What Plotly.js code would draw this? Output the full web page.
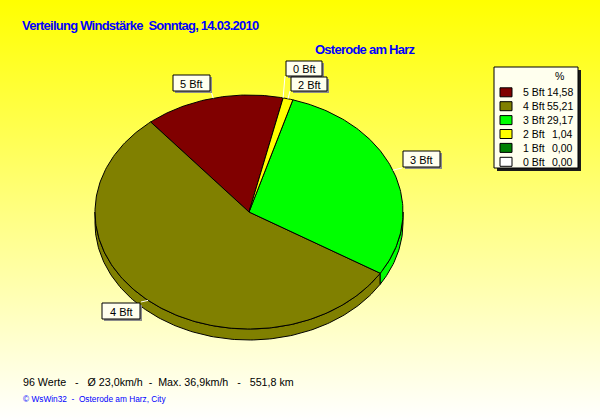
<!DOCTYPE html>
<html>
<head>
<meta charset="utf-8">
<script src="https://cdn.plot.ly/plotly-3.0.1.min.js"></script>
<style>
  html, body { margin: 0; padding: 0; }
  #chart {
    width: 600px; height: 420px;
    background: linear-gradient(to bottom, #ffff00 0%, #ffffff 100%);
  }
  /* heading lines use a tighter, condensed look */
  #chart .annotation[data-index="0"] text,
  #chart .annotation[data-index="1"] text { letter-spacing: -0.75px; }
</style>
</head>
<body>
<div id="chart"></div>
<script>
// Wind force distribution (Beaufort), share of readings in percent
const categories = ['5 Bft', '4 Bft', '3 Bft', '2 Bft', '1 Bft', '0 Bft'];
const percent = [14.58, 55.21, 29.17, 1.04, 0.00, 0.00];
const sliceColors = ['#800000', '#808000', '#00ff00', '#ffff00', '#008000', '#ffffff'];

const titleText = 'Verteilung Windstärke  Sonntag, 14.03.2010';
const stationText = 'Osterode am Harz';
const statsText = '96 Werte   -   Ø 23,0km/h  -  Max. 36,9km/h   -   551,8 km';
const creditText = '© WsWin32  -  Osterode am Harz, City';
const legendHeader = '%';

// Slices that carry a callout box
const calloutCategories = ['5 Bft', '0 Bft', '2 Bft', '3 Bft', '4 Bft'];

// ---- layout geometry (pixel space: x 0..600, y 0..420 downwards) ----
const PIE = { cx: 249, cy: 212, rx: 154, ry: 117, depth: 11, start: 77.2 };
const calloutBoxes = {
  '5 Bft': { x0: 173, x1: 210, y0: 75, y1: 91, lx: 211, ly: 91 },
  '0 Bft': { x0: 286, x1: 322, y0: 61, y1: 76, lx: 285, ly: 76 },
  '2 Bft': { x0: 291, x1: 327, y0: 77, y1: 91, lx: 290, ly: 91 },
  '3 Bft': { x0: 403, x1: 440, y0: 151, y1: 167, lx: 402, ly: 168 },
  '4 Bft': { x0: 102, x1: 140, y0: 303, y1: 319, lx: 141, ly: 302 }
};
const LEG = { x0: 494, x1: 578, y0: 67, y1: 168, row0: 92.3, rowStep: 13.9,
              swX0: 500, swX1: 512, swH: 9, nameX: 521, valX: 575, headX: 559, headY: 76 };

const nb = s => s.replace(/ /g, '\u00a0');
const fmt = v => v.toFixed(2).replace('.', ',');
const rad = d => d * Math.PI / 180;
const pt = (a, dy) => [PIE.cx + PIE.rx * Math.cos(rad(a)), PIE.cy - PIE.ry * Math.sin(rad(a)) + (dy || 0)];

function arc(a0, a1, dy) {
  const n = Math.max(2, Math.ceil(Math.abs(a1 - a0)));
  const out = [];
  for (let i = 0; i <= n; i++) out.push(pt(a0 + (a1 - a0) * i / n, dy));
  return out;
}

// cumulative slice angles, counter-clockwise from the start angle
const total = percent.reduce((s, v) => s + v, 0);
let acc = PIE.start;
const slices = categories.map((c, i) => {
  const a0 = acc;
  const a1 = acc + percent[i] / total * 360;
  acc = a1;
  return { cat: c, value: percent[i], color: sliceColors[i], a0, a1, mid: (a0 + a1) / 2 };
});

const traces = [];
const polyTrace = (pts, color) => ({
  type: 'scatter', mode: 'lines', fill: 'toself', fillcolor: color,
  x: pts.map(p => p[0]), y: pts.map(p => p[1]),
  line: { color: '#000000', width: 1 }, hoverinfo: 'skip', showlegend: false
});

// rim of the disc (front half only)
slices.forEach(s => {
  for (let base = 0; base <= 360; base += 360) {
    const lo = Math.max(s.a0, 180 + base), hi = Math.min(s.a1, 360 + base);
    if (hi - lo > 0.01) {
      const pts = arc(lo, hi, 0).concat(arc(hi, lo, PIE.depth));
      pts.push(pts[0]);
      traces.push(polyTrace(pts, s.color));
    }
  }
});

// top face
slices.forEach(s => {
  if (s.value <= 0) return;
  const pts = [[PIE.cx, PIE.cy]].concat(arc(s.a0, s.a1, 0));
  pts.push([PIE.cx, PIE.cy]);
  traces.push(polyTrace(pts, s.color));
});

const shapes = [];
const annotations = [];

// titles first (their indices are used by the stylesheet)
const headFont = { family: 'Liberation Sans, Arial, sans-serif', size: 13, color: '#0000ff', weight: 'bold' };
annotations.push({ x: 20, y: 25, text: nb(titleText), showarrow: false, xanchor: 'left', yanchor: 'middle',
                   align: 'left', font: headFont });
annotations.push({ x: 313, y: 49, text: nb(stationText), showarrow: false, xanchor: 'left', yanchor: 'middle',
                   align: 'left', font: headFont });

// callout boxes and leader lines
calloutCategories.forEach(c => {
  const s = slices.find(q => q.cat === c);
  const b = calloutBoxes[c];
  const end = pt(s.mid, 0);
  traces.push({
    type: 'scatter', mode: 'lines', x: [b.lx, end[0]], y: [b.ly, end[1]],
    line: { color: '#ffffff', width: 1 }, hoverinfo: 'skip', showlegend: false
  });
  shapes.push({ type: 'rect', layer: 'above', x0: b.x0 + 2, x1: b.x1 + 2, y0: b.y0 + 2, y1: b.y1 + 2,
                fillcolor: '#8c8c8c', line: { width: 0 } });
  shapes.push({ type: 'rect', layer: 'above', x0: b.x0, x1: b.x1, y0: b.y0, y1: b.y1,
                fillcolor: '#ffffee', line: { color: '#000000', width: 1 } });
  annotations.push({ x: (b.x0 + b.x1) / 2, y: (b.y0 + b.y1) / 2 + 0.5, text: nb(c), showarrow: false,
                     xanchor: 'center', yanchor: 'middle',
                     font: { family: 'Liberation Sans, Arial, sans-serif', size: 11, color: '#000000' } });
});

// legend box
const legFont = { family: 'Liberation Sans, Arial, sans-serif', size: 10.5, color: '#000000' };
shapes.push({ type: 'rect', layer: 'above', x0: LEG.x0 + 3, x1: LEG.x1 + 3, y0: LEG.y0 + 3, y1: LEG.y1 + 3,
              fillcolor: '#1a1a1a', line: { width: 0 } });
shapes.push({ type: 'rect', layer: 'above', x0: LEG.x0, x1: LEG.x1, y0: LEG.y0, y1: LEG.y1,
              fillcolor: '#ffffee', line: { color: '#000000', width: 1 } });
annotations.push({ x: LEG.headX, y: LEG.headY, text: legendHeader, showarrow: false,
                   xanchor: 'center', yanchor: 'middle', font: legFont });
categories.forEach((c, i) => {
  const y = LEG.row0 + i * LEG.rowStep;
  shapes.push({ type: 'rect', layer: 'above', x0: LEG.swX0, x1: LEG.swX1, y0: y - LEG.swH / 2, y1: y + LEG.swH / 2,
                fillcolor: sliceColors[i], line: { color: '#000000', width: 1 } });
  annotations.push({ x: LEG.nameX, y: y, text: nb(c), showarrow: false, xanchor: 'left', yanchor: 'middle', font: legFont });
  annotations.push({ x: LEG.valX, y: y, text: fmt(percent[i]), showarrow: false, xanchor: 'right', yanchor: 'middle', font: legFont });
});

// footer texts
annotations.push({ x: 21, y: 382, text: nb(statsText), showarrow: false, xanchor: 'left', yanchor: 'middle',
                   font: { family: 'Liberation Sans, Arial, sans-serif', size: 10.7, color: '#000000' } });
annotations.push({ x: 21, y: 399, text: nb(creditText), showarrow: false, xanchor: 'left', yanchor: 'middle',
                   font: { family: 'Liberation Sans, Arial, sans-serif', size: 8.3, color: '#0000ff' } });

const axisBase = { visible: false, showgrid: false, zeroline: false, fixedrange: true };
const layout = {
  width: 600, height: 420, autosize: false,
  margin: { l: 0, r: 0, t: 0, b: 0, pad: 0 },
  paper_bgcolor: 'rgba(0,0,0,0)', plot_bgcolor: 'rgba(0,0,0,0)',
  xaxis: Object.assign({ range: [0, 600], domain: [0, 1] }, axisBase),
  yaxis: Object.assign({ range: [420, 0], domain: [0, 1] }, axisBase),
  shapes: shapes, annotations: annotations, showlegend: false
};

Plotly.newPlot('chart', traces, layout, { staticPlot: true, displayModeBar: false });
</script>
</body>
</html>
